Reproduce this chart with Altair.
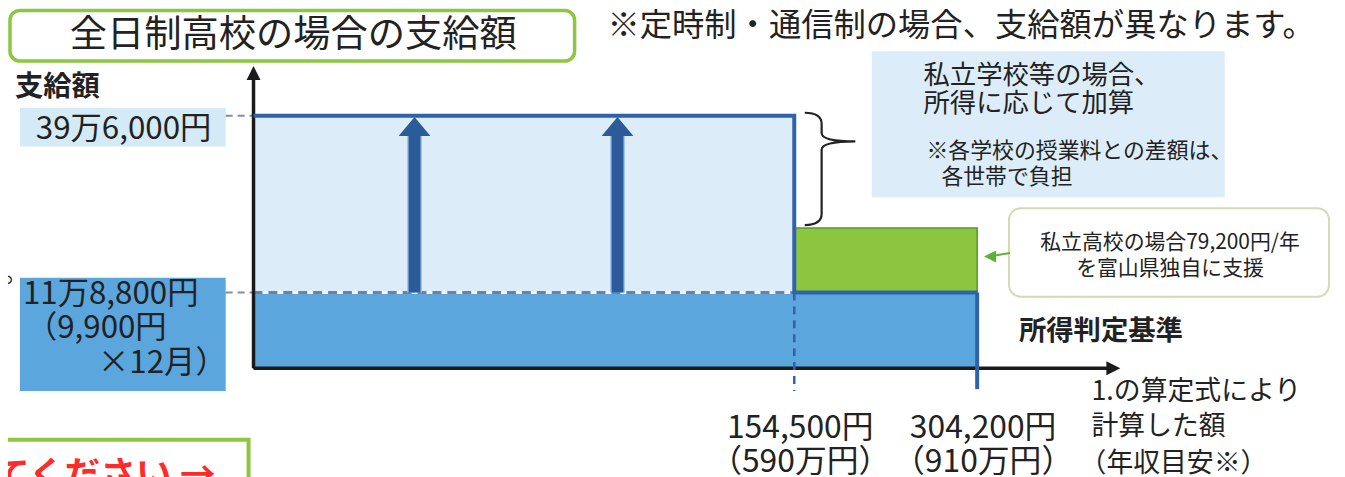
import altair as alt
import pandas as pd

# ---------------- data ----------------
income_breaks = [0, 154500, 304200]            # 所得判定基準 (円)
tick_amounts = ["154,500円", "304,200円"]
tick_income = ["（590万円）", "（910万円）"]
base_amount = 118800                            # 11万8,800円
max_amount = 396000                             # 39万6,000円
toyama_top = 220000                             # green block top as drawn
arrow_positions = [46000, 104000]

title_text = "全日制高校の場合の支給額"
note_text = "※定時制・通信制の場合、支給額が異なります。"
y_title = "支給額"
max_label = "39万6,000円"
base_label = ["11万8,800円", "（9,900円", "×12月）"]
private_head = ["私立学校等の場合、", "所得に応じて加算"]
private_sub = ["※各学校の授業料との差額は、", "各世帯で負担"]
toyama_text = ["私立高校の場合79,200円/年", "を富山県独自に支援"]
x_title = "所得判定基準"
x_note = ["1.の算定式により", "計算した額", "（年収目安※）"]
fragment_text = "てください →"

FONT = "Noto Sans CJK JP"
DARK = "#222222"
STEP_BLUE = "#2f62ab"
ARROW_BLUE = "#2b5c99"
BAND_BLUE = "#5ba6dd"
PALE_BLUE = "#dcedf9"
GREEN = "#8cc63f"

XS = alt.Scale(domain=income_breaks, range=[247, 791, 975], nice=False, zero=False)
YS = alt.Scale(domain=[0, max_amount], range=[361, 107], nice=False, zero=False)

ONE = pd.DataFrame({"k": [0]})


def X(f):
    return alt.X(f, type="quantitative", scale=XS, axis=None)


def Y(f):
    return alt.Y(f, type="quantitative", scale=YS, axis=None)


def txt(s, x, y, size, align="left", weight="normal", color=DARK, baseline="middle"):
    return alt.Chart(ONE).mark_text(
        text=s, fontSize=size, font=FONT, align=align, baseline=baseline,
        fontWeight=weight, color=color
    ).encode(x=alt.value(x), y=alt.value(y))


def box(x1, x2, y1, y2, fill, stroke=None, sw=0, r=0):
    kw = dict(fill=fill, cornerRadius=r, strokeWidth=sw)
    if stroke:
        kw["stroke"] = stroke
    return alt.Chart(ONE).mark_rect(**kw).encode(
        x=alt.value(x1), x2=alt.value(x2), y=alt.value(y1), y2=alt.value(y2))


layers = []

# title + note
layers.append(box(2, 570, 1, 52, "white", "#8dc63f", 3.5, 10))
layers.append(txt(title_text, 287, 27, 37.5, align="center"))
layers.append(txt(note_text, 603, 17, 32.5))

# private-school annotation box
layers.append(box(869, 1224, 42, 189, PALE_BLUE))
layers.append(txt(private_head[0], 921, 67, 26.5))
layers.append(txt(private_head[1], 921, 95, 26.5))
layers.append(txt(private_sub[0], 924, 142, 22))
layers.append(txt(private_sub[1], 939, 169, 22))

# y labels
layers.append(txt(y_title, 7, 78, 28.5, weight="bold"))
layers.append(box(12, 219, 99, 138, "#d4eaf7"))
layers.append(txt(max_label, 28, 121, 31.5))
layers.append(box(12, 219, 270, 384, BAND_BLUE))
layers.append(txt(base_label[0], 15, 287, 31.5))
layers.append(txt(base_label[1], 18, 322, 31.5))
layers.append(txt(base_label[2], 220, 357, 31.5, align="right"))
layers.append(txt("。", -5, 266, 26))

# regions
regions = pd.DataFrame({
    "x0": [0, 0, income_breaks[1]],
    "x1": [income_breaks[1], income_breaks[2], income_breaks[2]],
    "y0": [base_amount, 0, base_amount],
    "y1": [max_amount, base_amount, toyama_top],
    "kind": ["加算", "基本", "富山県"],
})
layers.append(alt.Chart(regions).mark_rect(strokeWidth=1.5).encode(
    x=X("x0"), x2="x1", y=Y("y0"), y2="y1",
    fill=alt.Fill("kind:N", scale=alt.Scale(domain=["加算", "基本", "富山県"],
                                            range=[PALE_BLUE, BAND_BLUE, GREEN]), legend=None),
    stroke=alt.Stroke("kind:N", scale=alt.Scale(domain=["加算", "基本", "富山県"],
                                                range=[PALE_BLUE, BAND_BLUE, "#4f9a2e"]), legend=None),
))

# reference dashed lines
refs = pd.DataFrame({"y": [max_amount, base_amount]})
layers.append(alt.Chart(refs).mark_rule(color="#7d8ea6", strokeWidth=2, strokeDash=[7, 5]).encode(
    x=alt.value(219), x2=alt.value(247), y=Y("y")))
base_line = pd.DataFrame({"x0": [0], "x1": [income_breaks[1]], "y": [base_amount]})
layers.append(alt.Chart(base_line).mark_rule(color="#eef6fc", strokeWidth=3).encode(
    x=X("x0"), x2="x1", y=Y("y")))
layers.append(alt.Chart(base_line).mark_rule(color="#6d82a0", strokeWidth=3, strokeDash=[9, 6]).encode(
    x=X("x0"), x2="x1", y=Y("y")))

# axes
origin = pd.DataFrame({"x": [0], "y": [0]})
layers.append(alt.Chart(origin).mark_rule(color="#1a1a1a", strokeWidth=3.5).encode(
    x=X("x"), y=Y("y"), y2=alt.value(62)))
layers.append(alt.Chart(origin).mark_rule(color="#1a1a1a", strokeWidth=3.5).encode(
    x=X("x"), x2=alt.value(1110), y=Y("y")))
layers.append(alt.Chart(origin).mark_point(shape="M-1,1L0,-1L1,1Z", size=196, filled=True,
                                           color="#1a1a1a", opacity=1).encode(
    x=X("x"), y=alt.value(64)))
layers.append(alt.Chart(origin).mark_point(shape="M-1,-1L1,0L-1,1Z", size=196, filled=True,
                                           color="#1a1a1a", opacity=1).encode(
    x=alt.value(1112), y=Y("y")))

# step line of the support amount
step = pd.DataFrame({
    "x": [0, income_breaks[1], income_breaks[1], income_breaks[2]],
    "y": [max_amount, max_amount, base_amount, base_amount],
    "o": [0, 1, 2, 3],
})
layers.append(alt.Chart(step).mark_line(color=STEP_BLUE, strokeWidth=4).encode(
    x=X("x"), y=Y("y"), order="o:Q"))
cut1 = pd.DataFrame({"x": [income_breaks[1]], "y": [base_amount]})
layers.append(alt.Chart(cut1).mark_rule(color=STEP_BLUE, strokeWidth=2.5, strokeDash=[8, 6]).encode(
    x=X("x"), y=Y("y"), y2=alt.value(384)))
cut2 = pd.DataFrame({"x": [income_breaks[2]], "y": [base_amount]})
layers.append(alt.Chart(cut2).mark_rule(color=STEP_BLUE, strokeWidth=4).encode(
    x=X("x"), y=Y("y"), y2=alt.value(382)))

# up arrows
arrows = pd.DataFrame({"x": arrow_positions, "y0": [base_amount] * 2, "y1": [max_amount] * 2})
layers.append(alt.Chart(arrows).mark_rule(color="#9fc2e6", strokeWidth=15, y2Offset=16).encode(
    x=X("x"), y=Y("y0"), y2="y1"))
layers.append(alt.Chart(arrows).mark_rule(color=ARROW_BLUE, strokeWidth=12, y2Offset=16).encode(
    x=X("x"), y=Y("y0"), y2="y1"))
layers.append(alt.Chart(arrows).mark_point(shape="M-1,1.27L0,0.07L1,1.27Z", size=1024, filled=True,
                                           color=ARROW_BLUE, opacity=1).encode(
    x=X("x"), y=Y("y1")))

# brace
brace_path = ("M-0.45,-1 Q-0.15,-1 -0.15,-0.8 L-0.15,-0.64 Q-0.15,-0.49 0.45,-0.49 "
              "Q-0.15,-0.49 -0.15,-0.34 L-0.15,0.8 Q-0.15,1 -0.45,1")
layers.append(alt.Chart(ONE).mark_point(shape=brace_path, size=12769, filled=False,
                                        color="#222222", strokeWidth=2.2, opacity=1).encode(
    x=alt.value(827), y=alt.value(160.5)))

# Toyama callout
layers.append(box(1007, 1329, 200, 289, "white", "#d3dbb0", 2, 12))
layers.append(txt(toyama_text[0], 1169, 235, 21, align="center"))
layers.append(txt(toyama_text[1], 1169, 261, 21, align="center"))
layers.append(alt.Chart(ONE).mark_rule(color="#5cb233", strokeWidth=2).encode(
    x=alt.value(1008), x2=alt.value(990), y=alt.value(245), y2=alt.value(248)))
layers.append(alt.Chart(ONE).mark_point(shape="M1,-1L-1,0L1,1Z", size=144, filled=True,
                                        color="#5cb233", opacity=1).encode(
    x=alt.value(988), y=alt.value(248.5)))

# x labels
layers.append(txt(x_title, 1017, 325, 27.5, weight="bold"))
ticks = pd.DataFrame({"x": income_breaks[1:], "amt": tick_amounts, "inc": tick_income})
layers.append(alt.Chart(ticks).mark_text(fontSize=32, font=FONT, color=DARK, align="center",
                                         baseline="middle", dx=6).encode(
    x=X("x"), y=alt.value(421), text="amt:N"))
layers.append(alt.Chart(ticks).mark_text(fontSize=32, font=FONT, color=DARK, align="center",
                                         baseline="middle", dx=6).encode(
    x=X("x"), y=alt.value(455), text="inc:N"))
layers.append(txt(x_note[0], 1090, 385, 27))
layers.append(txt(x_note[1], 1090, 420, 27))
layers.append(txt(x_note[2], 1078, 457, 27))

# cropped fragment at the bottom-left
layers.append(box(-10, 242, 433, 520, "white", "#8dc63f", 4, 0))
layers.append(txt(fragment_text, 209, 480, 36, align="right", weight="bold",
                  color="#ff2a2a", baseline="alphabetic"))

chart = alt.layer(*layers).properties(
    width=1337, height=469, autosize="none", padding=0
).configure_view(strokeOpacity=0, strokeWidth=0)

chart.save("out.html", embed_options={"renderer": "svg", "actions": False})
